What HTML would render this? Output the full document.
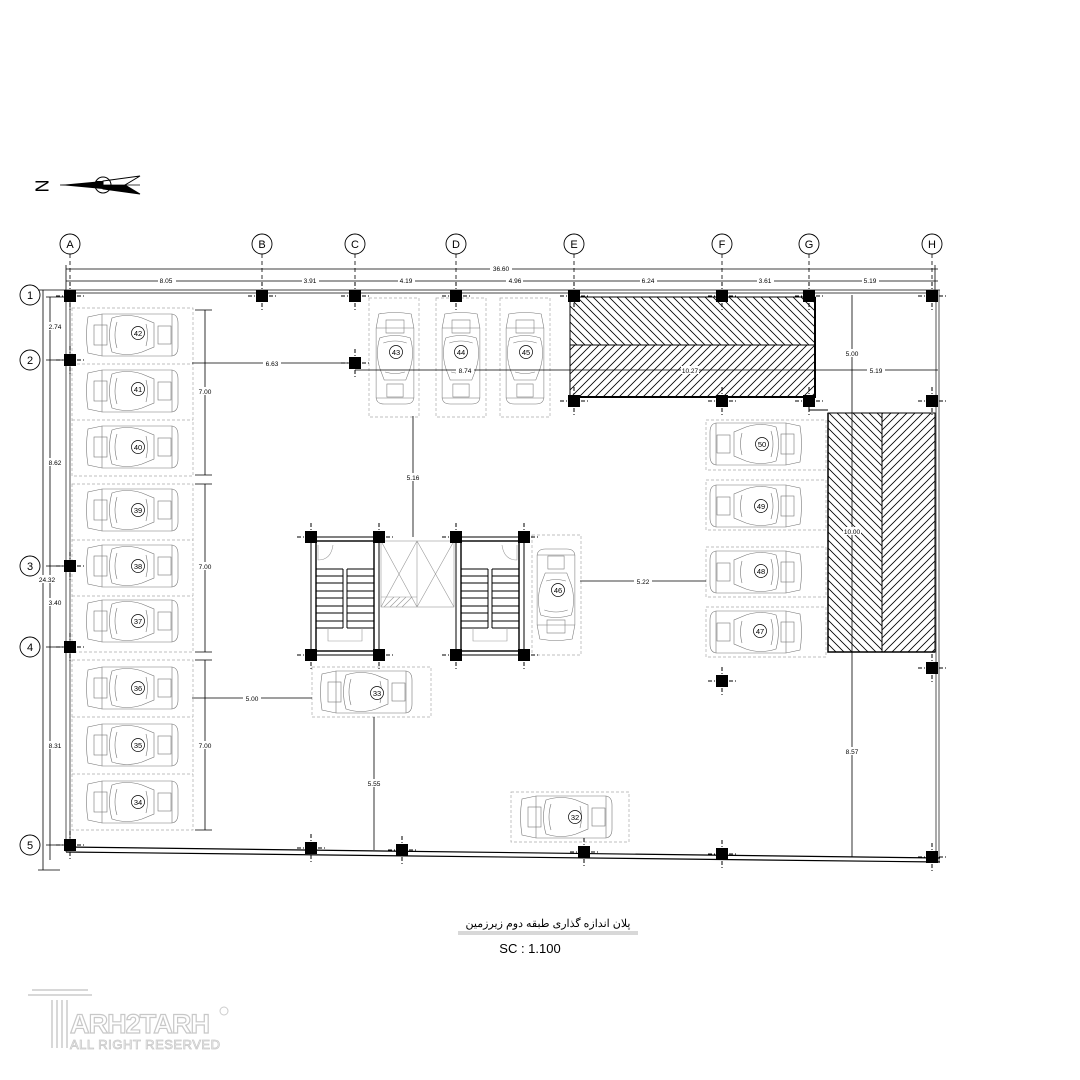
<!DOCTYPE html>
<html><head><meta charset="utf-8"><style>
html,body{margin:0;padding:0;background:#fff;}
svg{display:block;}
text{font-family:"Liberation Sans",sans-serif;}
</style></head><body>
<svg width="1080" height="1080" viewBox="0 0 1080 1080" xmlns="http://www.w3.org/2000/svg">
<defs>
<pattern id="hb" width="8" height="8" patternUnits="userSpaceOnUse"><path d="M-2,-2 L10,10 M-2,6 L2,10 M6,-2 L10,2" stroke="#000" stroke-width="0.8"/></pattern>
<pattern id="hf" width="8" height="8" patternUnits="userSpaceOnUse"><path d="M-2,10 L10,-2 M-2,2 L2,-2 M6,10 L10,6" stroke="#000" stroke-width="0.8"/></pattern>
<g id="car" fill="none" stroke="#777" stroke-width="0.6">
<path d="M-44,-18 Q-47,0 -44,18 L-30,21 L40,21 Q46,20 46,12 L46,-12 Q46,-20 40,-21 L-30,-21 Z"/>
<rect x="-38" y="-10" width="13" height="20"/>
<path d="M-20,-17 Q-5,-22 10,-17 L22,-12 L22,12 L10,17 Q-5,22 -20,17 Q-25,0 -20,-17Z"/>
<path d="M-15,-13 Q-19,0 -15,13 M14,-11 Q17,0 14,11"/>
<rect x="26" y="-9" width="13" height="18"/>
<path d="M-30,-21 L-30,21 M40,-21 L40,21"/>
</g>
<g id="col"><rect x="-6" y="-6" width="12" height="12" fill="#000"/><path d="M-14,0 H-7 M7,0 H14 M0,-14 V-7 M0,7 V14" stroke="#000" stroke-width="1" stroke-dasharray="4,2"/></g>
</defs>

<!-- north arrow -->
<text x="40" y="186" font-size="18" font-family="Liberation Serif" text-anchor="middle" dominant-baseline="middle" transform="rotate(90 40 186)">N</text>
<path d="M60,185 L140,185" stroke="#000" stroke-width="0.8"/>
<path d="M60,185 L103,181 L103,189 Z" fill="#000"/>
<path d="M103,181 L140,176 L125,185 L140,194 L103,189Z" fill="none" stroke="#000" stroke-width="1"/>
<path d="M103,185 L125,185 L140,194 L103,189Z" fill="#000"/>
<circle cx="103" cy="185" r="8" fill="none" stroke="#000"/>
<rect x="96" y="181" width="7" height="4" fill="#000"/><rect x="103" y="185" width="7" height="4" fill="#000"/>

<!-- grid bubbles -->
<g fill="#fff" stroke="#000" stroke-width="0.9">
<circle cx="70" cy="244" r="10"/><circle cx="262" cy="244" r="10"/><circle cx="355" cy="244" r="10"/><circle cx="456" cy="244" r="10"/><circle cx="574" cy="244" r="10"/><circle cx="722" cy="244" r="10"/><circle cx="809" cy="244" r="10"/><circle cx="932" cy="244" r="10"/>
<circle cx="30" cy="295" r="10"/><circle cx="30" cy="360" r="10"/><circle cx="30" cy="566" r="10"/><circle cx="30" cy="647" r="10"/><circle cx="30" cy="845" r="10"/>
</g>
<g font-size="11" text-anchor="middle">
<text x="70" y="248">A</text><text x="262" y="248">B</text><text x="355" y="248">C</text><text x="456" y="248">D</text><text x="574" y="248">E</text><text x="722" y="248">F</text><text x="809" y="248">G</text><text x="932" y="248">H</text>
<text x="30" y="299">1</text><text x="30" y="364">2</text><text x="30" y="570">3</text><text x="30" y="651">4</text><text x="30" y="849">5</text>
</g>
<g stroke="#000" stroke-width="0.8" stroke-dasharray="4,3">
<path d="M70,254 V280 M262,254 V280 M355,254 V280 M456,254 V280 M574,254 V280 M722,254 V280 M809,254 V280 M932,254 V280"/>
</g>

<!-- dimensions top -->
<g stroke="#000" stroke-width="0.8" fill="none">
<path d="M66,269 H938 M66,281 H938 M66,265 V290 M935,265 V290"/>
<path d="M43,290 V870 M50,297 V860 M38,290 H70 M38,870 H60 M46,297 H70 M46,360 H70 M46,566 H70 M46,647 H70 M46,845 H70"/>
</g>
<g font-size="6.5" text-anchor="middle" fill="#000">
<rect x="490" y="265" width="22" height="7" fill="#fff"/><text x="501" y="271">36.60</text>
<g fill="#fff"><rect x="158" y="277" width="18" height="7"/><rect x="302" y="277" width="17" height="7"/><rect x="398" y="277" width="17" height="7"/><rect x="506" y="277" width="17" height="7"/><rect x="640" y="277" width="17" height="7"/><rect x="757" y="277" width="17" height="7"/><rect x="862" y="277" width="17" height="7"/></g>
<text x="166" y="283">8.05</text><text x="310" y="283">3.91</text><text x="406" y="283">4.19</text><text x="515" y="283">4.96</text><text x="648" y="283">6.24</text><text x="765" y="283">3.61</text><text x="870" y="283">5.19</text>
<g fill="#fff"><rect x="44" y="322" width="18" height="8"/><rect x="44" y="458" width="18" height="8"/><rect x="37" y="575" width="18" height="8"/><rect x="44" y="598" width="18" height="8"/><rect x="44" y="741" width="18" height="8"/></g>
<text x="55" y="329">2.74</text><text x="55" y="465">8.62</text><text x="47" y="582">24.32</text><text x="55" y="605">3.40</text><text x="55" y="748">8.31</text>
</g>

<!-- outline -->
<g stroke="#444" stroke-width="0.9" fill="none">
<path d="M66,290 H940 M66,293 H938"/>
<path d="M66,290 V852 M70,293 V850"/>
<path d="M936,290 V862 M939,290 V862"/>
</g>
<path d="M66,847 L940,858 M66,852 L940,862" stroke="#000" stroke-width="1.2" fill="none"/>

<!-- parking groups left -->
<g fill="none" stroke="#aaa" stroke-width="0.7" stroke-dasharray="3,2">
<rect x="72" y="308" width="121" height="168"/><path d="M72,364 H193 M72,420 H193"/>
<rect x="72" y="484" width="121" height="168"/><path d="M72,540 H193 M72,596 H193"/>
<rect x="72" y="660" width="121" height="170"/><path d="M72,717 H193 M72,774 H193"/>
<rect x="369" y="298" width="50" height="119"/><rect x="436" y="298" width="50" height="119"/><rect x="500" y="298" width="50" height="119"/>
<rect x="706" y="420" width="120" height="50"/><rect x="706" y="480" width="120" height="50"/><rect x="706" y="547" width="120" height="50"/><rect x="706" y="607" width="120" height="50"/>
<rect x="532" y="535" width="49" height="120"/>
<rect x="312" y="667" width="119" height="50"/>
<rect x="511" y="792" width="118" height="50"/>
</g>

<!-- cars -->
<use href="#car" x="132" y="335"/><use href="#car" x="132" y="391"/><use href="#car" x="132" y="447"/>
<use href="#car" x="132" y="510"/><use href="#car" x="132" y="566"/><use href="#car" x="132" y="621"/>
<use href="#car" x="132" y="688"/><use href="#car" x="132" y="745"/><use href="#car" x="132" y="802"/>
<use href="#car" transform="translate(756,444) rotate(180)"/><use href="#car" transform="translate(756,506) rotate(180)"/><use href="#car" transform="translate(756,572) rotate(180)"/><use href="#car" transform="translate(756,632) rotate(180)"/>
<use href="#car" transform="translate(395,358) rotate(90) scale(1,0.9)"/><use href="#car" transform="translate(461,358) rotate(90) scale(1,0.9)"/><use href="#car" transform="translate(525,358) rotate(90) scale(1,0.9)"/>
<use href="#car" transform="translate(556,595) rotate(-90) scale(1,0.9)"/>
<use href="#car" x="366" y="692"/><use href="#car" x="566" y="817"/>

<g fill="#fff" stroke="#000" stroke-width="0.7">
<circle cx="138" cy="333" r="6.5"/><circle cx="138" cy="389" r="6.5"/><circle cx="138" cy="447" r="6.5"/><circle cx="138" cy="510" r="6.5"/><circle cx="138" cy="566" r="6.5"/><circle cx="138" cy="621" r="6.5"/><circle cx="138" cy="688" r="6.5"/><circle cx="138" cy="745" r="6.5"/><circle cx="138" cy="802" r="6.5"/>
<circle cx="762" cy="444" r="6.5"/><circle cx="761" cy="506" r="6.5"/><circle cx="761" cy="571" r="6.5"/><circle cx="760" cy="631" r="6.5"/>
<circle cx="396" cy="352" r="6.5"/><circle cx="461" cy="352" r="6.5"/><circle cx="526" cy="352" r="6.5"/><circle cx="558" cy="590" r="6.5"/><circle cx="377" cy="693" r="6.5"/><circle cx="575" cy="817" r="6.5"/>
</g>
<g font-size="7.5" text-anchor="middle" fill="#000">
<text x="138" y="336">42</text><text x="138" y="392">41</text><text x="138" y="450">40</text><text x="138" y="513">39</text><text x="138" y="569">38</text><text x="138" y="624">37</text><text x="138" y="691">36</text><text x="138" y="748">35</text><text x="138" y="805">34</text>
<text x="762" y="447">50</text><text x="761" y="509">49</text><text x="761" y="574">48</text><text x="760" y="634">47</text>
<text x="396" y="355">43</text><text x="461" y="355">44</text><text x="526" y="355">45</text><text x="558" y="593">46</text><text x="377" y="696">33</text><text x="575" y="820">32</text>
</g>

<!-- hatched areas -->
<rect x="570" y="297" width="245" height="48" fill="url(#hb)" stroke="#000" stroke-width="1"/>
<rect x="570" y="345" width="245" height="52" fill="url(#hf)" stroke="#000" stroke-width="1"/>
<path d="M570,397 H815 V297" stroke="#000" stroke-width="2" fill="none"/>
<path d="M809,401 V410 H828" stroke="#000" stroke-width="1" fill="none"/>
<rect x="828" y="413" width="54" height="239" fill="url(#hb)" stroke="#000" stroke-width="1"/>
<rect x="882" y="413" width="53" height="239" fill="url(#hf)" stroke="#000" stroke-width="1"/>
<path d="M828,413 V652 H935" stroke="#000" stroke-width="1.5" fill="none"/>

<!-- stairs -->
<g stroke="#000" fill="none">
<rect x="311" y="537" width="68" height="118" stroke-width="1"/><rect x="316" y="541" width="58" height="110" stroke-width="1.4"/>
<rect x="456" y="537" width="68" height="118" stroke-width="1"/><rect x="461" y="541" width="58" height="110" stroke-width="1.4"/>
<g stroke-width="1">
<path d="M316,569 H343 M316,576 H343 M316,583 H343 M316,591 H343 M316,598 H343 M316,606 H343 M316,613 H343 M316,621 H343 M316,628 H343 M343,569 V628"/>
<path d="M347,569 H374 M347,576 H374 M347,583 H374 M347,591 H374 M347,598 H374 M347,606 H374 M347,613 H374 M347,621 H374 M347,628 H374 M347,569 V628"/>
<path d="M461,569 H488 M461,576 H488 M461,583 H488 M461,591 H488 M461,598 H488 M461,606 H488 M461,613 H488 M461,621 H488 M461,628 H488 M488,569 V628"/>
<path d="M492,569 H519 M492,576 H519 M492,583 H519 M492,591 H519 M492,598 H519 M492,606 H519 M492,613 H519 M492,621 H519 M492,628 H519 M492,569 V628"/>
</g>
<g stroke="#999" stroke-width="0.6">
<path d="M328,628 V641 H362 V628 M473,628 V641 H507 V628"/>
<path d="M318,545 V560 Q331,560 333,545 M517,545 V560 Q504,560 502,545"/>
<rect x="381" y="541" width="73" height="66"/><path d="M381,541 L417,607 M417,541 L381,607 M417,541 V607 M417,541 L454,607 M454,541 L417,607"/>
<path d="M381,597 H417 M384,607 L394,597 M390,607 L400,597 M396,607 L406,597 M402,607 L412,597"/>
</g>
</g>

<!-- columns -->
<use href="#col" x="70" y="296"/><use href="#col" x="262" y="296"/><use href="#col" x="355" y="296"/><use href="#col" x="456" y="296"/><use href="#col" x="574" y="296"/><use href="#col" x="722" y="296"/><use href="#col" x="809" y="296"/><use href="#col" x="932" y="296"/>
<use href="#col" x="70" y="360"/><use href="#col" x="355" y="363"/>
<use href="#col" x="574" y="401"/><use href="#col" x="722" y="401"/><use href="#col" x="809" y="401"/><use href="#col" x="932" y="401"/>
<use href="#col" x="70" y="566"/><use href="#col" x="70" y="647"/><use href="#col" x="70" y="845"/>
<use href="#col" x="311" y="537"/><use href="#col" x="379" y="537"/><use href="#col" x="456" y="537"/><use href="#col" x="524" y="537"/>
<use href="#col" x="311" y="655"/><use href="#col" x="379" y="655"/><use href="#col" x="456" y="655"/><use href="#col" x="524" y="655"/>
<use href="#col" x="722" y="681"/><use href="#col" x="932" y="668"/>
<use href="#col" x="311" y="848"/><use href="#col" x="402" y="850"/><use href="#col" x="584" y="852"/><use href="#col" x="722" y="854"/><use href="#col" x="932" y="857"/>

<!-- interior dimensions -->
<g stroke="#000" stroke-width="0.8" fill="none">
<path d="M192,363 H355 M355,370 H938 M852,295 V857 M413,416 V537 M580,581 H706 M192,698 H312 M374,717 V850"/>
<path d="M205,310 V475 M205,484 V652 M205,660 V830 M195,310 H212 M195,475 H212 M195,484 H212 M195,652 H212 M195,660 H212 M195,830 H212"/>
</g>
<g font-size="6.5" text-anchor="middle" fill="#000">
<g fill="#fff"><rect x="263" y="359" width="18" height="8"/><rect x="456" y="366" width="18" height="8"/><rect x="681" y="366" width="18" height="8"/><rect x="867" y="366" width="18" height="8"/><rect x="843" y="349" width="18" height="8"/><rect x="843" y="527" width="18" height="8"/><rect x="843" y="747" width="18" height="8"/><rect x="404" y="473" width="18" height="8"/><rect x="634" y="577" width="18" height="8"/><rect x="243" y="694" width="18" height="8"/><rect x="365" y="779" width="18" height="8"/><rect x="196" y="387" width="18" height="8"/><rect x="196" y="562" width="18" height="8"/><rect x="196" y="741" width="18" height="8"/></g>
<text x="272" y="366">6.63</text><text x="465" y="373">8.74</text><text x="690" y="373">10.27</text><text x="876" y="373">5.19</text>
<text x="852" y="356">5.00</text><text x="852" y="534">10.00</text><text x="852" y="754">8.57</text>
<text x="413" y="480">5.16</text><text x="643" y="584">5.22</text><text x="252" y="701">5.00</text><text x="374" y="786">5.55</text>
<text x="205" y="394">7.00</text><text x="205" y="569">7.00</text><text x="205" y="748">7.00</text>
</g>

<!-- title -->
<text x="548" y="927" font-size="11" text-anchor="middle" font-family="'Liberation Sans','Noto Sans CJK SC',sans-serif" direction="rtl">پلان اندازه گذاری طبقه دوم زیرزمین</text>
<path d="M458,932 H638 M458,934 H638" stroke="#999" stroke-width="0.8"/>
<text x="530" y="953" font-size="13" text-anchor="middle">SC :  1.100</text>

<!-- logo -->
<g stroke="#ccc" fill="none" stroke-width="1.5">
<path d="M32,990 H88 M28,995 H92 M52,1000 V1048 M57,1000 V1048 M62,1000 V1048 M67,1000 V1048"/>
</g>
<text x="70" y="1033" font-size="27" fill="none" stroke="#c8c8c8" stroke-width="1.2" font-weight="bold" textLength="140">ARH2TARH</text>
<text x="70" y="1049" font-size="13" fill="none" stroke="#c8c8c8" stroke-width="0.8" textLength="150">ALL RIGHT RESERVED</text>
<circle cx="224" cy="1011" r="4" fill="none" stroke="#ccc"/>
</svg>
</body></html>
